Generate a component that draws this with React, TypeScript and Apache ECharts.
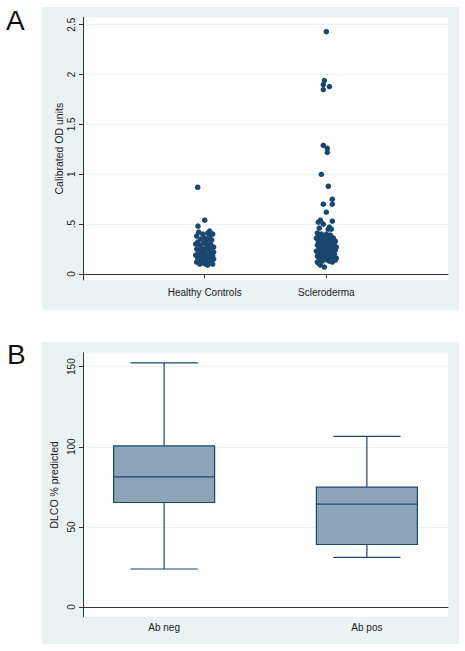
import React, { useEffect, useRef } from "react";
import * as echarts from "echarts";

// ---------- Panel A data ----------
const groupsA = ["Healthy Controls", "Scleroderma"];
const groupPositionsA = [1, 2];
const yTicksA = [0, 0.5, 1, 1.5, 2, 2.5];
const yTickLabelsA = ["0", ".5", "1", "1.5", "2", "2.5"];

const healthyValues = [
  0.87, 0.54, 0.48, 0.43,
  0.42, 0.41, 0.40, 0.40, 0.38, 0.37, 0.36, 0.35, 0.34, 0.33, 0.32, 0.31, 0.30, 0.29,
  0.28, 0.27, 0.26, 0.25, 0.25, 0.24, 0.23, 0.22, 0.21, 0.21, 0.20, 0.19, 0.19, 0.18,
  0.18, 0.17, 0.17, 0.16, 0.16, 0.15, 0.15, 0.14, 0.14, 0.13, 0.13, 0.12, 0.12, 0.11,
  0.11, 0.10, 0.10, 0.10, 0.09, 0.14, 0.26, 0.30, 0.20, 0.29, 0.35, 0.24, 0.22,
];
const healthyJitter = [
  -0.057, 0.0, -0.055, 0.041,
  -0.049, 0.025, -0.016, 0.066, -0.066, 0.041, 0.0, -0.033, 0.058, 0.016, -0.058, -0.008, 0.049, -0.041,
  0.025, 0.074, -0.025, 0.008, -0.066, 0.041, -0.049, 0.0, 0.058, -0.016, 0.033, -0.074, 0.016, -0.033,
  0.066, -0.008, 0.041, -0.058, 0.008, 0.074, -0.025, 0.033, -0.049, 0.0, 0.058, -0.066, 0.016, -0.025,
  0.041, 0.066, -0.041, 0.008, 0.025, -0.008, 0.049, -0.074, -0.049, 0.016, 0.033, -0.016, 0.074,
];

const sclerodermaValues = [
  2.43, 1.90, 1.94, 1.85, 1.88, 1.29, 1.26, 1.22, 1.00, 0.88, 0.75, 0.70, 0.70, 0.62,
  0.54, 0.53, 0.52, 0.50, 0.47, 0.46, 0.45, 0.45, 0.11, 0.07, 0.09,
  0.41, 0.40, 0.40, 0.39, 0.38, 0.38, 0.37, 0.36, 0.36, 0.35, 0.35, 0.34, 0.33, 0.33,
  0.32, 0.32, 0.31, 0.31, 0.30, 0.30, 0.29, 0.29, 0.28, 0.28, 0.27, 0.27, 0.26, 0.26,
  0.25, 0.25, 0.24, 0.24, 0.23, 0.23, 0.22, 0.22, 0.21, 0.21, 0.20, 0.20, 0.19, 0.19,
  0.18, 0.18, 0.17, 0.17, 0.16, 0.16, 0.15, 0.15, 0.14, 0.14, 0.13, 0.13, 0.12, 0.12,
  0.27, 0.31, 0.35, 0.27, 0.16, 0.18, 0.21, 0.24, 0.18, 0.23, 0.33, 0.29, 0.14, 0.29,
];
const sclerodermaJitter = [
  0.0, -0.025, -0.016, -0.025, 0.025, -0.025, 0.008, 0.008, -0.041, 0.016, 0.049, 0.049, -0.025, 0.0,
  -0.049, 0.049, -0.066, -0.025, 0.025, -0.058, 0.016, 0.041, -0.066, -0.016, -0.049,
  -0.074, -0.041, 0.0, 0.033, -0.058, -0.016, 0.016, 0.058, -0.082, -0.033, 0.008, 0.041, 0.074, -0.066,
  -0.008, 0.025, -0.049, 0.066, 0.0, -0.025, 0.049, -0.074, 0.016, -0.041, 0.082, 0.033, -0.008, -0.058,
  0.058, 0.008, -0.033, 0.074, -0.082, 0.025, -0.016, 0.049, -0.049, 0.0, 0.066, -0.066, 0.033, -0.025,
  0.016, -0.074, 0.058, -0.041, 0.082, -0.008, 0.041, -0.058, 0.008, 0.074, -0.033, 0.025, -0.074, 0.049,
  -0.016, 0.041, -0.049, 0.066, -0.025, 0.0, 0.025, -0.008, 0.049, -0.066, 0.016, -0.033, 0.058, 0.008,
];

// ---------- Panel B data ----------
const groupsB = ["Ab neg", "Ab pos"];
const groupPositionsB = [1, 2];
// [lower whisker, Q1, median, Q3, upper whisker]
const boxStatsB = [
  [23.7, 65.2, 81.2, 100.6, 152.3],
  [31.0, 39.0, 64.2, 74.8, 106.5],
];
const yTicksB = [0, 50, 100, 150];
const yTickLabelsB = ["0", "50", "100", "150"];

const NAVY = "#1A476F";
const BOXFILL = "#8DA3B7";
const BG = "#EAF2F3";
const TXT = "#222";
const AXIS = "#333";
const FONT = "'Liberation Sans', Arial, Helvetica, sans-serif";

export default function App() {
  const ref = useRef<HTMLDivElement>(null);

  useEffect(() => {
    if (!ref.current) return;
    const chart = echarts.init(ref.current, null, { renderer: "svg" });

    const healthyData = healthyValues.map((v, i) => [groupPositionsA[0] + healthyJitter[i], v]);
    const sclerodermaData = sclerodermaValues.map((v, i) => [groupPositionsA[1] + sclerodermaJitter[i], v]);
    const boxData = boxStatsB.map((s, i) => [groupPositionsB[i], ...s]);

    const labelA = (v: number) => {
      const i = yTicksA.indexOf(v);
      return i >= 0 ? yTickLabelsA[i] : "";
    };
    const labelB = (v: number) => {
      const i = yTicksB.indexOf(v);
      return i >= 0 ? yTickLabelsB[i] : "";
    };

    const commonY = {
      type: "value",
      axisLine: { show: true, lineStyle: { color: AXIS, width: 1 } },
      splitLine: { show: true, lineStyle: { color: BG, width: 1 } },
      nameLocation: "middle",
      nameRotate: 90,
      nameMoveOverlap: false,
      nameTextStyle: { color: TXT, fontSize: 10.5, fontFamily: FONT },
    };

    const option: any = {
      animation: false,
      backgroundColor: "#fff",
      textStyle: { fontFamily: FONT },
      graphic: [
        { type: "rect", z: -10, shape: { x: 42, y: 7, width: 417, height: 303 }, style: { fill: BG } },
        { type: "rect", z: -10, shape: { x: 42, y: 342, width: 417, height: 302 }, style: { fill: BG } },
        { type: "text", z: 10, x: 6, y: 20.5, style: { text: "A", fontSize: 28, fontFamily: FONT, fill: "#111", textVerticalAlign: "middle" } },
        { type: "text", z: 10, x: 7, y: 354.5, style: { text: "B", fontSize: 28, fontFamily: FONT, fill: "#111", textVerticalAlign: "middle" } },
      ],
      grid: [
        { left: 83, top: 17.3, width: 365, height: 262.7, show: true, backgroundColor: "#fff", borderWidth: 0, outerBoundsMode: "none", containLabel: false },
        { left: 83, top: 352.7, width: 365, height: 264.3, show: true, backgroundColor: "#fff", borderWidth: 0, outerBoundsMode: "none", containLabel: false },
      ],
      xAxis: [
        {
          gridIndex: 0,
          type: "value",
          min: 0,
          max: 3,
          axisLine: { show: true, lineStyle: { color: AXIS, width: 1 } },
          axisTick: { show: true, length: 4, customValues: groupPositionsA, lineStyle: { color: AXIS } },
          axisLabel: {
            customValues: groupPositionsA,
            formatter: (v: number) => groupsA[groupPositionsA.indexOf(v)] ?? "",
            color: TXT,
            fontSize: 10,
            margin: 7,
          },
          splitLine: { show: false },
        },
        {
          gridIndex: 1,
          type: "value",
          min: 0.6,
          max: 2.4,
          axisLine: { show: true, lineStyle: { color: AXIS, width: 1 } },
          axisTick: { show: false, customValues: groupPositionsB },
          axisLabel: {
            customValues: groupPositionsB,
            formatter: (v: number) => groupsB[groupPositionsB.indexOf(v)] ?? "",
            color: TXT,
            fontSize: 10,
            margin: 5,
          },
          splitLine: { show: false },
        },
      ],
      yAxis: [
        {
          ...commonY,
          gridIndex: 0,
          min: -0.06,
          max: 2.574,
          name: "Calibrated OD units",
          nameGap: 19,
          axisTick: { show: true, length: 4, customValues: yTicksA, lineStyle: { color: AXIS } },
          axisLabel: { customValues: yTicksA, formatter: labelA, rotate: 90, color: TXT, fontSize: 10, margin: 7 },
        },
        {
          ...commonY,
          gridIndex: 1,
          min: -6.24,
          max: 158.7,
          name: "DLCO % predicted",
          nameGap: 24,
          axisTick: { show: true, length: 4, customValues: yTicksB, lineStyle: { color: AXIS } },
          axisLabel: { customValues: yTicksB, formatter: labelB, rotate: 90, color: TXT, fontSize: 10, margin: 7 },
        },
      ],
      series: [
        {
          type: "scatter",
          name: groupsA[0],
          xAxisIndex: 0,
          yAxisIndex: 0,
          data: healthyData,
          symbol: "circle",
          symbolSize: 5.5,
          itemStyle: { color: NAVY, opacity: 1 },
        },
        {
          type: "scatter",
          name: groupsA[1],
          xAxisIndex: 0,
          yAxisIndex: 0,
          data: sclerodermaData,
          symbol: "circle",
          symbolSize: 5.5,
          itemStyle: { color: NAVY, opacity: 1 },
        },
        {
          type: "custom",
          xAxisIndex: 1,
          yAxisIndex: 1,
          data: boxData,
          encode: { x: 0, y: [1, 2, 3, 4, 5] },
          renderItem: (_params: any, api: any) => {
            const x = api.value(0);
            const lo = api.value(1);
            const q1 = api.value(2);
            const med = api.value(3);
            const q3 = api.value(4);
            const hi = api.value(5);
            const halfBox = 0.249;
            const halfCap = 0.166;
            const tl = api.coord([x - halfBox, q3]);
            const br = api.coord([x + halfBox, q1]);
            const cx = api.coord([x, 0])[0];
            const yLo = api.coord([x, lo])[1];
            const yHi = api.coord([x, hi])[1];
            const yMed = api.coord([x, med])[1];
            const capL = api.coord([x - halfCap, 0])[0];
            const capR = api.coord([x + halfCap, 0])[0];
            const ls = { stroke: NAVY, lineWidth: 1.2 };
            return {
              type: "group",
              children: [
                { type: "line", shape: { x1: cx, y1: tl[1], x2: cx, y2: yHi }, style: ls },
                { type: "line", shape: { x1: cx, y1: br[1], x2: cx, y2: yLo }, style: ls },
                { type: "line", shape: { x1: capL, y1: yHi, x2: capR, y2: yHi }, style: ls },
                { type: "line", shape: { x1: capL, y1: yLo, x2: capR, y2: yLo }, style: ls },
                {
                  type: "rect",
                  shape: { x: tl[0], y: tl[1], width: br[0] - tl[0], height: br[1] - tl[1] },
                  style: { fill: BOXFILL, stroke: NAVY, lineWidth: 1.2 },
                },
                { type: "line", shape: { x1: tl[0], y1: yMed, x2: br[0], y2: yMed }, style: ls },
              ],
            };
          },
        },
      ],
    };

    chart.setOption(option);
    return () => chart.dispose();
  }, []);

  return (
    <div
      ref={ref}
      style={{ position: "fixed", left: 0, top: 0, width: 465, height: 651 }}
    />
  );
}
